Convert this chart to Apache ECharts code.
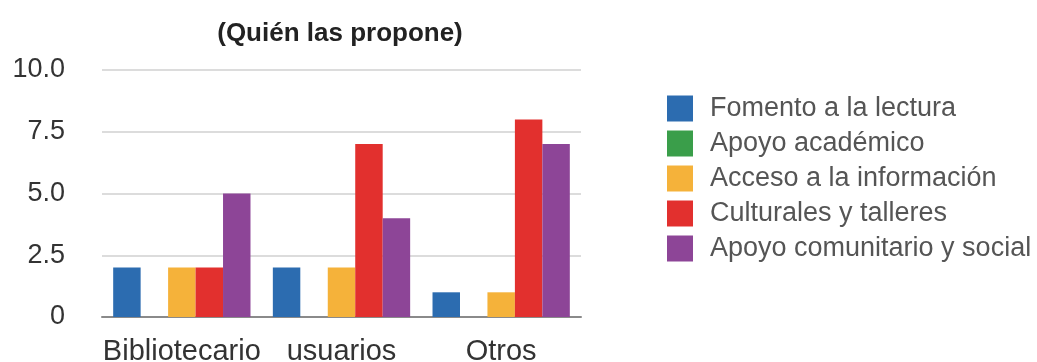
<!DOCTYPE html>
<html>
<head>
<meta charset="utf-8">
<script src="https://cdn.jsdelivr.net/npm/echarts@6/dist/echarts.min.js"></script>
<style>
html,body{margin:0;padding:0;background:#fff;}
#chart{width:1037px;height:362px;}
</style>
</head>
<body>
<div id="chart"></div>
<script>
const categories = ['Bibliotecario', 'usuarios', 'Otros'];
const seriesNames = ['Fomento a la lectura', 'Apoyo académico', 'Acceso a la información', 'Culturales y talleres', 'Apoyo comunitario y social'];
const fomento = [2, 2, 1];
const academico = [0, 0, 0];
const acceso = [2, 2, 1];
const culturales = [2, 7, 8];
const comunitario = [5, 4, 7];
const yTicks = [0, 2.5, 5, 7.5, 10];
const colors = ['#2c6cb0', '#3a9e4a', '#f5b23a', '#e2302e', '#8d4597'];
const titleText = '(Quién las propone)';

const values = [fomento, academico, acceso, culturales, comunitario];
const FONT = '"Liberation Sans", Arial, Helvetica, sans-serif';

const chart = echarts.init(document.getElementById('chart'), null, {renderer: 'canvas'});
chart.setOption({
  animation: false,
  backgroundColor: '#ffffff',
  title: {
    text: titleText,
    left: 335,
    top: 16,
    textAlign: 'center',
    textStyle: {fontFamily: FONT, fontSize: 26, fontWeight: 'bold', color: '#222'}
  },
  legend: {
    orient: 'vertical',
    left: 662,
    top: 90,
    itemWidth: 26,
    itemHeight: 26,
    itemGap: 8,
    icon: 'rect',
    textStyle: {fontFamily: FONT, fontSize: 27, color: '#555', lineHeight: 26, padding: [0, 0, 0, 12]},
    data: seriesNames
  },
  grid: {left: 102, right: 456, top: 70, bottom: 45, containLabel: false, outerBoundsMode: 'none'},
  xAxis: {
    type: 'category',
    data: categories,
    axisLine: {show: true, lineStyle: {color: '#8a8a8a', width: 2}},
    axisTick: {show: false},
    axisLabel: {fontFamily: FONT, fontSize: 29, color: '#333', margin: 20, interval: 0}
  },
  yAxis: {
    type: 'value',
    min: yTicks[0],
    max: yTicks[yTicks.length - 1],
    interval: 2.5,
    axisLine: {show: false},
    axisTick: {show: false},
    splitLine: {lineStyle: {color: '#dcdcdc', width: 2}},
    axisLabel: {
      fontFamily: FONT, fontSize: 27, color: '#333', margin: 37,
      formatter: v => (v === 0 ? '0' : v.toFixed(1))
    }
  },
  series: seriesNames.map((name, i) => ({
    name: name,
    type: 'bar',
    data: values[i],
    barGap: '0%',
    barCategoryGap: '14%',
    itemStyle: {color: colors[i]}
  }))
});
</script>
</body>
</html>
